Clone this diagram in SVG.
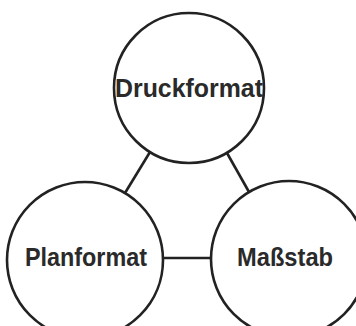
<svg xmlns="http://www.w3.org/2000/svg" width="356" height="326" viewBox="0 0 356 326">
  <style>
    .node circle { fill: #ffffff; stroke: #222; stroke-width: 2.6; }
    .node text { font-family: "Liberation Sans", Arial, sans-serif; font-weight: bold; font-size: 25px; fill: #2a2a2a; text-anchor: middle; }
    #connectors line { stroke: #222; stroke-width: 2.6; }
  </style>
  <rect width="356" height="326" fill="#ffffff"/>
  <g id="connectors">
    <line x1="150" y1="152" x2="125" y2="193"/>
    <line x1="227" y1="153" x2="249" y2="192"/>
    <line x1="163" y1="258" x2="211" y2="258"/>
  </g>
  <g id="druckformat" class="node">
    <circle cx="189" cy="88" r="75"/>
    <text x="189" y="97" font-size="27" textLength="148" lengthAdjust="spacingAndGlyphs">Druckformat</text>
  </g>
  <g id="planformat" class="node">
    <circle cx="85" cy="260" r="78"/>
    <text x="86" y="266" textLength="122" lengthAdjust="spacingAndGlyphs">Planformat</text>
  </g>
  <g id="massstab" class="node">
    <circle cx="289" cy="259" r="78"/>
    <text x="285" y="266" textLength="96" lengthAdjust="spacingAndGlyphs">Maßstab</text>
  </g>
</svg>
